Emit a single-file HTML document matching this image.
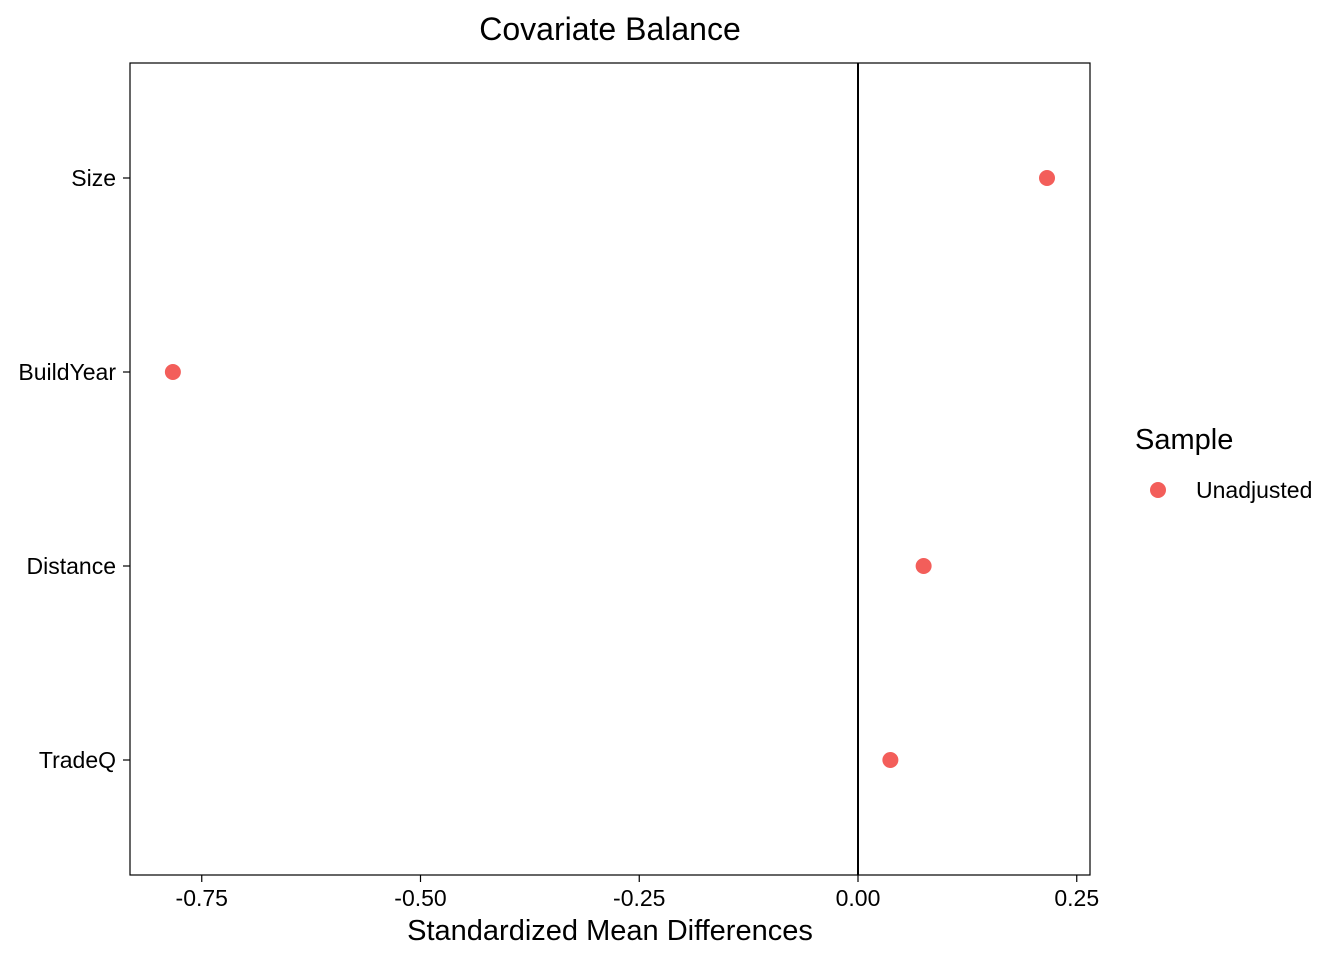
<!DOCTYPE html>
<html><head><meta charset="utf-8"><style>
body{margin:0;background:#fff;font-family:"Liberation Sans",Arial,sans-serif}
svg text{font-family:"Liberation Sans",Arial,sans-serif}
</style></head><body>
<svg id="chart" width="1344" height="960" xmlns="http://www.w3.org/2000/svg">
<rect width="1344" height="960" fill="#fff"/>
<text x="610" y="40" font-size="32" text-anchor="middle">Covariate Balance</text>
<rect x="130" y="63" width="960" height="812" fill="none" stroke="#000" stroke-width="1.2"/>
<g id="xaxis"></g>
<g id="yaxis"></g>
<line id="zeroline" stroke="#000" stroke-width="2"/>
<g id="points"></g>
<text x="610" y="940" font-size="29" text-anchor="middle">Standardized Mean Differences</text>
<text x="1135" y="449" font-size="29">Sample</text>
<g>
<circle cx="1158" cy="490" r="8" fill="#F35E5A"/>
<text x="1196" y="498" font-size="23">Unadjusted</text>
</g>
</svg>
<script>
const categories=["Size","BuildYear","Distance","TradeQ"];
const unadjusted=[0.216,-0.783,0.075,0.037];
const xTicks=[-0.75,-0.5,-0.25,0,0.25];
const xTickLabels=["-0.75","-0.50","-0.25","0.00","0.25"];
const NS="http://www.w3.org/2000/svg";
const xs=v=>858+v*875;
const ys=i=>178+i*194;
function mk(t,a,p){const e=document.createElementNS(NS,t);for(const k in a)e.setAttribute(k,a[k]);p.appendChild(e);return e;}
const xa=document.getElementById('xaxis');
xTicks.forEach((v,i)=>{
 const l=mk('line',{x1:xs(v),x2:xs(v),y1:875,y2:882,stroke:'#000','stroke-width':1.2},xa);
 
 
 const t=mk('text',{x:xs(v),y:906,'font-size':23,'text-anchor':'middle'},xa);
 t.textContent=xTickLabels[i];
 
 
});
const ya=document.getElementById('yaxis');
categories.forEach((c,i)=>{
 const l=mk('line',{x1:123,x2:130,y1:ys(i),y2:ys(i),stroke:'#000','stroke-width':1.2},ya);
 
 
 const t=mk('text',{x:116,y:ys(i)+8,'font-size':23,'text-anchor':'end'},ya);
 t.textContent=c;
 
 
});
const z=document.getElementById('zeroline');
z.setAttribute('x1',xs(0));z.setAttribute('x2',xs(0));z.setAttribute('y1',63);z.setAttribute('y2',875);
const pg=document.getElementById('points');
unadjusted.forEach((v,i)=>{
 const c=mk('circle',{cx:xs(v),cy:ys(i),r:8,fill:'#F35E5A'},pg);
 
 
});
</script>
</body></html>
